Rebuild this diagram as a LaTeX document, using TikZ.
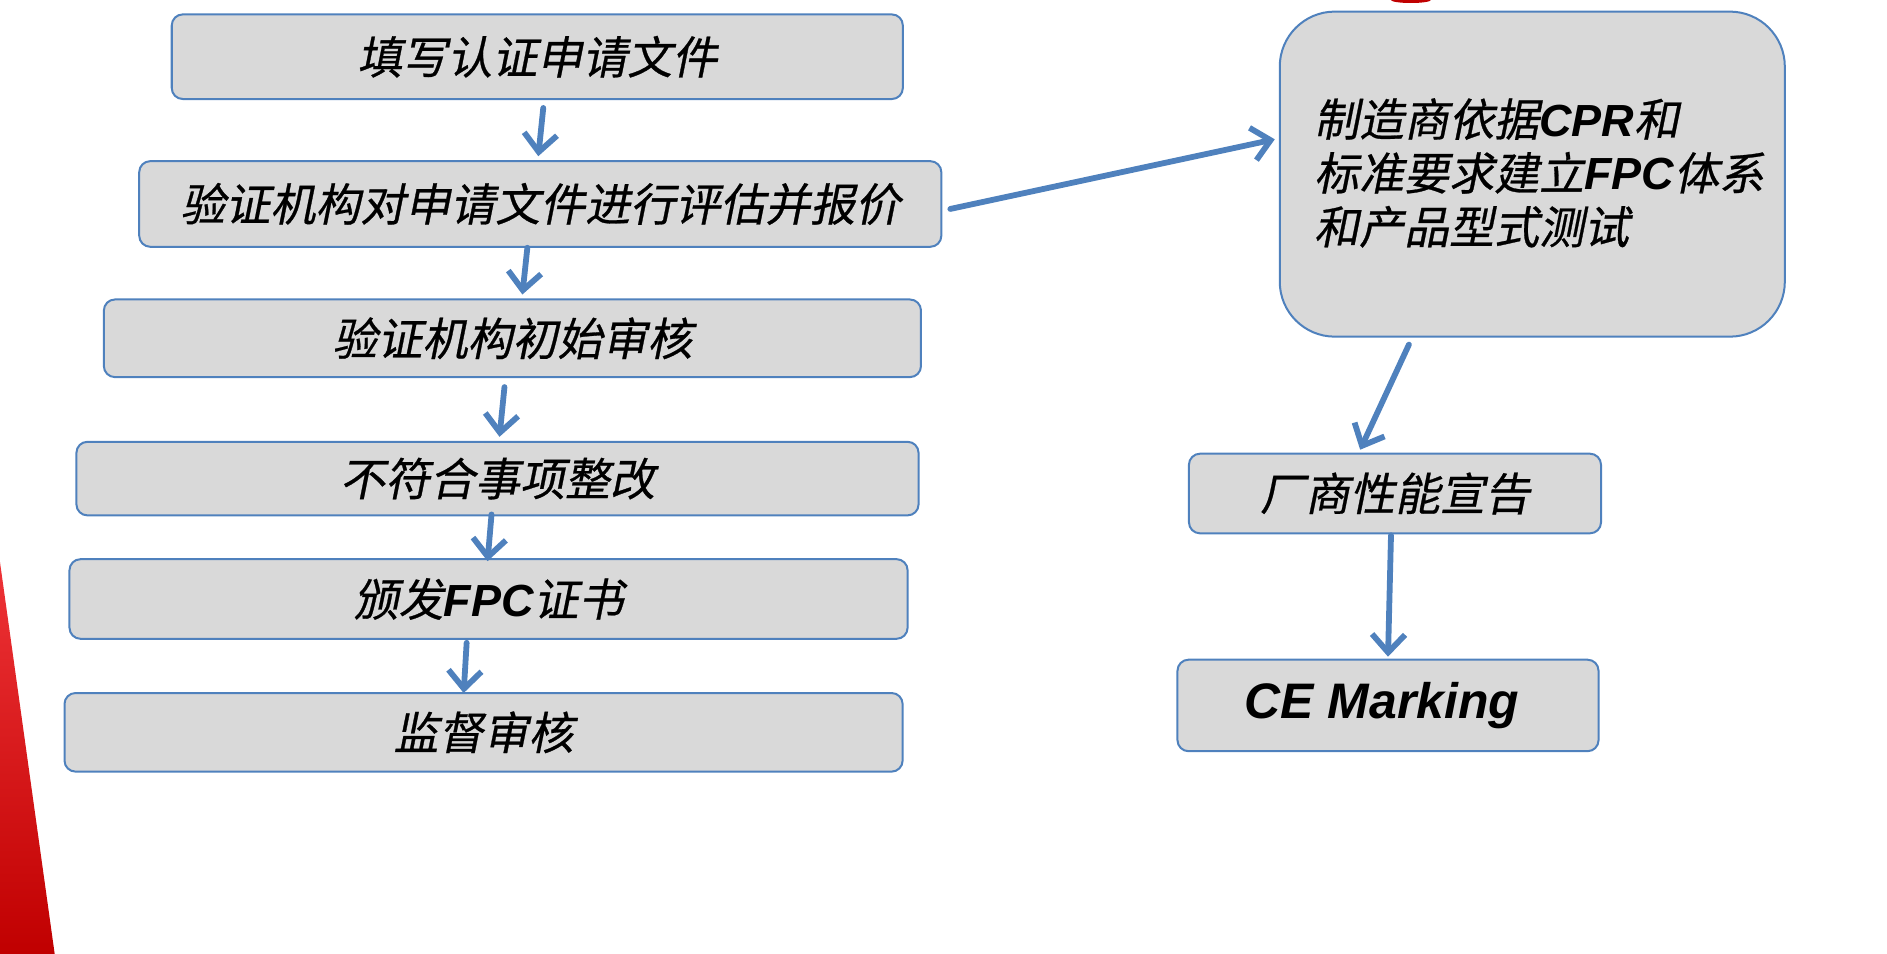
\documentclass[tikz,border=0pt]{standalone}
\usepackage{fontspec}
\setmainfont{Liberation Sans}
\newfontfamily\cjk[FakeSlant=0.2,FakeBold=0.6]{Noto Sans CJK SC}
\newfontfamily\latf{Liberation Sans}
\newcommand{\lat}[1]{{\latf\bfseries\itshape #1}}
\usetikzlibrary{arrows.meta,calc}
\definecolor{boxblue}{HTML}{4F81BD}
\definecolor{boxgray}{HTML}{D9D9D9}
\definecolor{redtop}{HTML}{EE3337}
\definecolor{redbot}{HTML}{C00000}
\begin{document}
\begin{tikzpicture}[x=0.00995cm,y=-0.00995cm]
	\tikzstyle{stepbox}=[draw=boxblue,fill=boxgray,line width=0.02cm,rounded corners=0.11cm,inner sep=0pt,font=\cjk\fontsize{12.8}{15.2}\selectfont];
	\tikzstyle{flow}=[draw=boxblue,line width=0.058cm,line cap=round,line join=round,-{Straight Barb[length=0.18cm,width=0.33cm]}];
	\useasboundingbox (0,0) rectangle (1896.5,958.8);
	\shade[top color=redtop,bottom color=redbot] (0,565) -- (55,959) -- (0,959) -- cycle;
	\fill[redbot] (1418,0) ellipse[x radius=0.2cm,y radius=0.03cm];
	\node[stepbox,minimum width=7.31cm,minimum height=0.846cm] (fill) at (540,57) {填写认证申请文件};
	\node[stepbox,minimum width=8.02cm,minimum height=0.856cm] (eval) at (543,205) {验证机构对申请文件进行评估并报价};
	\node[stepbox,minimum width=8.17cm,minimum height=0.776cm] (init) at (515,340) {验证机构初始审核};
	\node[stepbox,minimum width=8.42cm,minimum height=0.736cm] (fix) at (500,481) {不符合事项整改};
	\node[stepbox,minimum width=8.38cm,minimum height=0.796cm] (cert) at (491,602) {颁发\lat{FPC}证书};
	\node[stepbox,minimum width=8.38cm,minimum height=0.786cm] (audit) at (486,736) {监督审核};
	\node[stepbox,rounded corners=0.55cm,minimum width=5.05cm,minimum height=3.25cm] (maker) at (1540,175) {};
	\node[font=\cjk\fontsize{12.8}{15.3}\selectfont,align=left,anchor=north west,inner sep=0pt] (makertext) at (1320,98) {制造商依据\lat{CPR}和\\标准要求建立\lat{FPC}体系\\和产品型式测试};
	\node[stepbox,minimum width=4.12cm,minimum height=0.796cm] (dop) at (1402,496) {厂商性能宣告};
	\node[stepbox,minimum width=4.21cm,minimum height=0.915cm,font=\latf\bfseries\itshape\fontsize{14.2}{16}\selectfont] (ce) at (1395,709) {\hspace*{-0.12cm}CE Marking};
	\draw[flow] ($(fill.south)+(6,8)$) -- ($(eval.north)+(-2,-4)$);
	\draw[flow] ($(eval.south)+(-13,0)$) -- ($(init.north)+(10,-4)$);
	\draw[flow] ($(init.south)+(-8,9)$) -- ($(fix.north)+(2,-4)$);
	\draw[flow] ($(fix.south)+(-6,-2)$) -- ($(cert.north)+(-1,3)$);
	\draw[flow] ($(cert.south)+(-22,3)$) -- ($(audit.north)+(-20,1)$);
	\draw[flow] ($(eval.east)+(8,5)$) -- ($(maker.west)+(-4,-35)$);
	\draw[flow] ($(maker.south)+(-124,7)$) -- ($(dop.north)+(-35,-3)$);
	\draw[flow] ($(dop.south)+(-4,1)$) -- ($(ce.north)+(0,-2)$);
\end{tikzpicture}
\end{document}
